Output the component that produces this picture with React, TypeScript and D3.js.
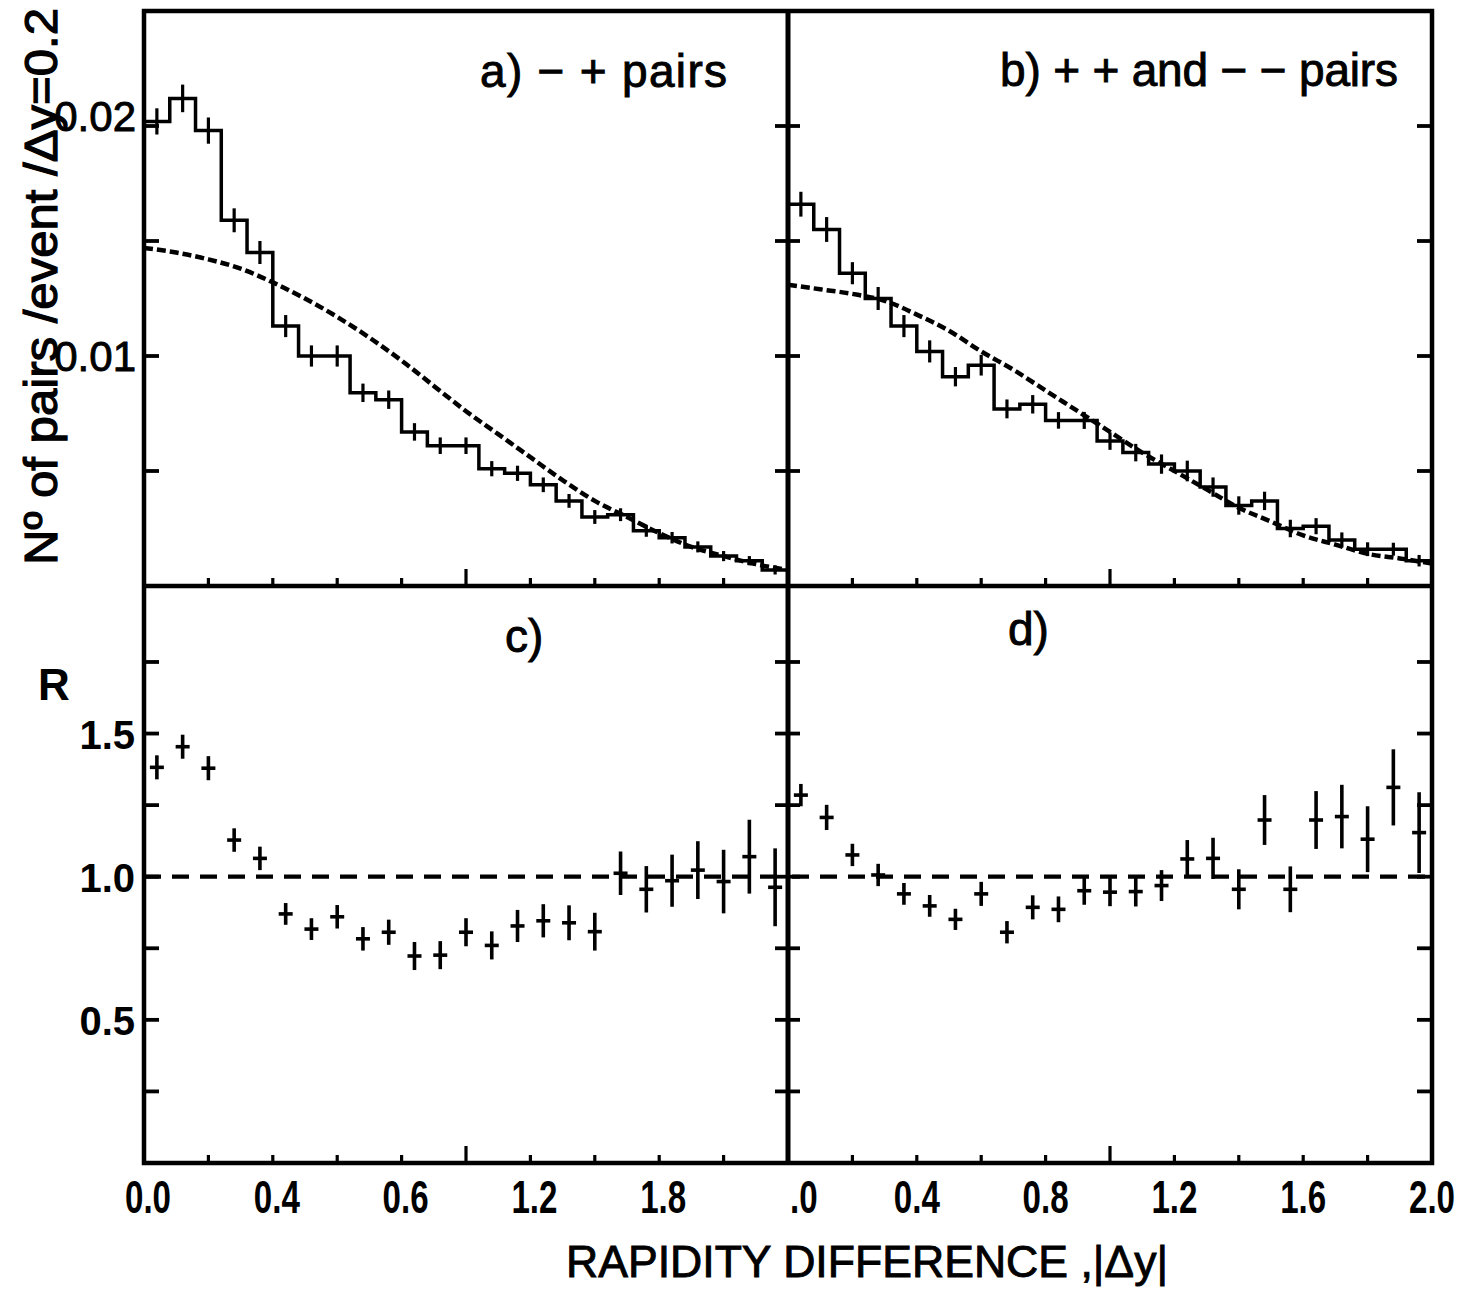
import React from "react";
import * as d3 from "d3";

// bin lower edges (|Δy|), bin width 0.08
const binLow = [0.0, 0.08, 0.16, 0.24, 0.32, 0.4, 0.48, 0.56, 0.64, 0.72, 0.8, 0.88, 0.96, 1.04, 1.12, 1.2, 1.28, 1.36, 1.44, 1.52, 1.6, 1.68, 1.76, 1.84, 1.92];
const BIN_W = 0.08;

// a) -+ pairs histogram
const histA = [0.0202, 0.0212, 0.0198, 0.0159, 0.0145, 0.0113, 0.01, 0.01, 0.0084, 0.0081, 0.0067, 0.0061, 0.0061, 0.0051, 0.0049, 0.0044, 0.0037, 0.003, 0.0031, 0.0024, 0.0021, 0.0017, 0.0013, 0.0011, 0.0007];
const errA = [0.00057, 0.0006, 0.00057, 0.00052, 0.0005, 0.00048, 0.00046, 0.00046, 0.0004, 0.0004, 0.00038, 0.00036, 0.00036, 0.00033, 0.00033, 0.00032, 0.0003, 0.0003, 0.00028, 0.00026, 0.00025, 0.00024, 0.00022, 0.0002, 0.0002];

// b) ++ and -- pairs histogram
const histB = [0.0166, 0.0155, 0.0136, 0.0125, 0.0113, 0.0102, 0.0091, 0.0096, 0.0077, 0.0079, 0.0072, 0.0072, 0.0063, 0.0058, 0.0053, 0.005, 0.0043, 0.0035, 0.0037, 0.0025, 0.0026, 0.002, 0.0016, 0.0016, 0.0011];
const errB = [0.00054, 0.00054, 0.00048, 0.0005, 0.00048, 0.00048, 0.00042, 0.00045, 0.00041, 0.0004, 0.00036, 0.00037, 0.00038, 0.00038, 0.00042, 0.00045, 0.00042, 0.0004, 0.0004, 0.00038, 0.00035, 0.00033, 0.0003, 0.00028, 0.00025];

// dashed reference curves
const curveX = [0.0, 0.1, 0.2, 0.3, 0.4, 0.5, 0.6, 0.7, 0.8, 0.9, 1.0, 1.1, 1.2, 1.3, 1.4, 1.5, 1.6, 1.7, 1.8, 1.9, 2.0];
const curveA = [0.0147, 0.0145, 0.0142, 0.0138, 0.0132, 0.0125, 0.0117, 0.0108, 0.0098, 0.0087, 0.0076, 0.0066, 0.0056, 0.0046, 0.0037, 0.003, 0.0023, 0.0017, 0.0013, 0.00095, 0.0007];
const curveB = [0.0131, 0.0129, 0.0127, 0.0124, 0.0118, 0.0111, 0.0102, 0.0094, 0.0085, 0.0076, 0.0067, 0.0058, 0.005, 0.0042, 0.0034, 0.0028, 0.0022, 0.0018, 0.0014, 0.0012, 0.00098];

// c) and d) ratios R
const ratioC = [1.382, 1.454, 1.379, 1.128, 1.064, 0.87, 0.817, 0.86, 0.783, 0.806, 0.723, 0.726, 0.806, 0.76, 0.828, 0.846, 0.839, 0.808, 1.012, 0.956, 0.986, 1.023, 0.983, 1.07, 0.963];
const errC = [0.042, 0.042, 0.042, 0.041, 0.041, 0.038, 0.038, 0.041, 0.041, 0.044, 0.049, 0.049, 0.049, 0.049, 0.056, 0.058, 0.061, 0.066, 0.076, 0.081, 0.091, 0.101, 0.111, 0.129, 0.136];
const ratioD = [1.285, 1.207, 1.076, 1.006, 0.94, 0.898, 0.851, 0.94, 0.806, 0.893, 0.886, 0.951, 0.946, 0.948, 0.969, 1.062, 1.064, 0.956, 1.198, 0.956, 1.198, 1.21, 1.131, 1.312, 1.154];
const errD = [0.039, 0.044, 0.039, 0.039, 0.038, 0.038, 0.037, 0.042, 0.039, 0.042, 0.045, 0.049, 0.049, 0.052, 0.054, 0.066, 0.072, 0.07, 0.087, 0.08, 0.101, 0.111, 0.115, 0.133, 0.141];

// ticks and labels
const xTicks = [0.2, 0.4, 0.6, 0.8, 1.0, 1.2, 1.4, 1.6, 1.8];
const xMajor = 1.0;
const xLabelPosA = [0.0, 0.4, 0.8, 1.2, 1.6];
const xLabelTxtA = ["0.0", "0.4", "0.6", "1.2", "1.8"];
const xLabelPosB = [0.0, 0.4, 0.8, 1.2, 1.6, 2.0];
const xLabelTxtB = [".0", "0.4", "0.8", "1.2", "1.6", "2.0"];
const topYTicks = [0.005, 0.01, 0.015, 0.02];
const topYLabelVals = [0.01, 0.02];
const topYLabelTxt = ["0.01", "0.02"];
const botYTicks = [0.25, 0.5, 0.75, 1.0, 1.25, 1.5, 1.75];
const botYLabelVals = [0.5, 1.0, 1.5];
const botYLabelTxt = ["0.5", "1.0", "1.5"];

const FONT = "'Liberation Sans', Arial, sans-serif";

export default function App() {
  const W = 1479, H = 1294;
  const L = 144, M = 788, R = 1432, T = 11, D = 586, B = 1163;

  const xA = d3.scaleLinear().domain([0, 2]).range([L, M]);
  const xB = d3.scaleLinear().domain([0, 2]).range([M, R]);
  const yT = d3.scaleLinear().domain([0, 0.02]).range([D, 126]);
  const yR = d3.scaleLinear().domain([0, 1]).range([B, 876.7]);

  const histPath = (x: d3.ScaleLinear<number, number>, vals: number[]) => {
    let p = `M${x(binLow[0])},${yT(vals[0])}`;
    vals.forEach((v, i) => {
      p += `H${x(binLow[i] + BIN_W)}`;
      if (i < vals.length - 1) p += `V${yT(vals[i + 1])}`;
    });
    return p;
  };

  const curveLine = (x: d3.ScaleLinear<number, number>) =>
    d3
      .line<number>()
      .x((_, i) => x(curveX[i]))
      .y((d) => yT(d))
      .curve(d3.curveMonotoneX);

  const histErr = (x: d3.ScaleLinear<number, number>, vals: number[], errs: number[], key: string) =>
    vals.map((v, i) => {
      const cx = x(binLow[i] + BIN_W / 2);
      return (
        <line key={key + i} x1={cx} x2={cx} y1={yT(v + errs[i])} y2={yT(v - errs[i])} stroke="#000" strokeWidth={3.2} />
      );
    });

  const ratioPts = (x: d3.ScaleLinear<number, number>, vals: number[], errs: number[], key: string) =>
    vals.map((v, i) => {
      const cx = x(binLow[i] + BIN_W / 2);
      const cy = yR(v);
      return (
        <g key={key + i} stroke="#000" strokeWidth={3.6}>
          <line x1={cx} x2={cx} y1={yR(v + errs[i])} y2={yR(v - errs[i])} />
          <line x1={cx - 7} x2={cx + 7} y1={cy} y2={cy} />
        </g>
      );
    });

  const yTickMarks = (ticks: number[], y: d3.ScaleLinear<number, number>, key: string) =>
    ticks.map((t, i) => (
      <g key={key + i} stroke="#000" strokeWidth={3.8}>
        <line x1={L} x2={L + 15} y1={y(t)} y2={y(t)} />
        <line x1={M - 13} x2={M + 12} y1={y(t)} y2={y(t)} />
        <line x1={R - 15} x2={R} y1={y(t)} y2={y(t)} />
      </g>
    ));

  const xTickMarks = (x: d3.ScaleLinear<number, number>, base: number, key: string) =>
    xTicks.map((t, i) => (
      <line key={key + i} x1={x(t)} x2={x(t)} y1={base} y2={base - (t === xMajor ? 17 : 8)} stroke="#000" strokeWidth={3.2} />
    ));

  const curveAPath = curveLine(xA)(curveA) || "";
  const curveBPath = curveLine(xB)(curveB) || "";

  return (
    <svg
      width={W}
      height={H}
      viewBox={`0 0 ${W} ${H}`}
      style={{ position: "absolute", left: 0, top: 0, display: "block", background: "#fff" }}
      fontFamily={FONT}
    >
      <rect x={0} y={0} width={W} height={H} fill="#fff" />

      {/* dashed curves */}
      <path d={curveAPath} fill="none" stroke="#000" strokeWidth={4.5} strokeDasharray="9 4" />
      <path d={curveBPath} fill="none" stroke="#000" strokeWidth={4.5} strokeDasharray="9 4" />

      {/* histograms */}
      <path d={histPath(xA, histA)} fill="none" stroke="#000" strokeWidth={3.5} />
      {histErr(xA, histA, errA, "ea")}
      <path d={histPath(xB, histB)} fill="none" stroke="#000" strokeWidth={3.5} />
      {histErr(xB, histB, errB, "eb")}

      {/* R = 1 dashed lines */}
      <line x1={xA(0)} x2={xA(2)} y1={yR(1)} y2={yR(1)} stroke="#000" strokeWidth={4.2} strokeDasharray="17 11" />
      <line x1={xB(0) + 4} x2={xB(2)} y1={yR(1)} y2={yR(1)} stroke="#000" strokeWidth={4.2} strokeDasharray="17 11" />

      {ratioPts(xA, ratioC, errC, "rc")}
      {ratioPts(xB, ratioD, errD, "rd")}

      {/* frame */}
      <rect x={L} y={T} width={R - L} height={B - T} fill="none" stroke="#000" strokeWidth={4.5} />
      <line x1={M} x2={M} y1={T} y2={B} stroke="#000" strokeWidth={5} />
      <line x1={L} x2={R} y1={D} y2={D} stroke="#000" strokeWidth={4.5} />

      {yTickMarks(topYTicks, yT, "tt")}
      {yTickMarks(botYTicks, yR, "bt")}
      {xTickMarks(xA, D, "xa1")}
      {xTickMarks(xB, D, "xb1")}
      {xTickMarks(xA, B, "xa2")}
      {xTickMarks(xB, B, "xb2")}

      <g stroke="#000" strokeWidth={0.9}>
        {/* y tick labels */}
        {topYLabelVals.map((v, i) => (
          <text key={"tyl" + i} x={136} y={yT(v) + (i === 1 ? 5 : 15)} textAnchor="end" fontSize={42}>
            {topYLabelTxt[i]}
          </text>
        ))}
        {botYLabelVals.map((v, i) => (
          <text key={"byl" + i} x={135} y={yR(v) + 15} textAnchor="end" fontSize={40} fontWeight="bold" strokeWidth={0}>
            {botYLabelTxt[i]}
          </text>
        ))}

        {/* x tick labels */}
        {xLabelPosA.map((v, i) => (
          <text
            key={"xla" + i}
            transform={`translate(${xA(v) + 4},1213) scale(0.72,1)`}
            textAnchor="middle"
            fontSize={46}
            fontWeight="bold"
            strokeWidth={0}
          >
            {xLabelTxtA[i]}
          </text>
        ))}
        {xLabelPosB.map((v, i) => (
          <text
            key={"xlb" + i}
            transform={`translate(${xB(v) + (i === 0 ? 2 : 0)},1213) scale(0.72,1)`}
            textAnchor={i === 0 ? "start" : "middle"}
            fontSize={46}
            fontWeight="bold"
            strokeWidth={0}
          >
            {xLabelTxtB[i]}
          </text>
        ))}

        {/* axis titles */}
        <text x={566} y={1277} fontSize={44} textLength={602} lengthAdjust="spacingAndGlyphs">
          RAPIDITY DIFFERENCE ,|Δy|
        </text>
        <text
          transform="translate(57,565) rotate(-90)"
          fontSize={46}
          textLength={557}
          lengthAdjust="spacingAndGlyphs"
          strokeWidth={1.2}
        >
          Nº of pairs /event /Δy=0.2
        </text>
        <text x={38} y={700} fontSize={44} fontWeight="bold" strokeWidth={0}>R</text>

        {/* panel labels */}
        <text x={480} y={87} fontSize={46} textLength={247} lengthAdjust="spacing">
          a) − + pairs
        </text>
        <text x={1000} y={86} fontSize={46} textLength={398} lengthAdjust="spacing">
          b) + + and − − pairs
        </text>
        <text x={505} y={652} fontSize={46}>c)</text>
        <text x={1008} y={645} fontSize={46}>d)</text>
      </g>
    </svg>
  );
}
